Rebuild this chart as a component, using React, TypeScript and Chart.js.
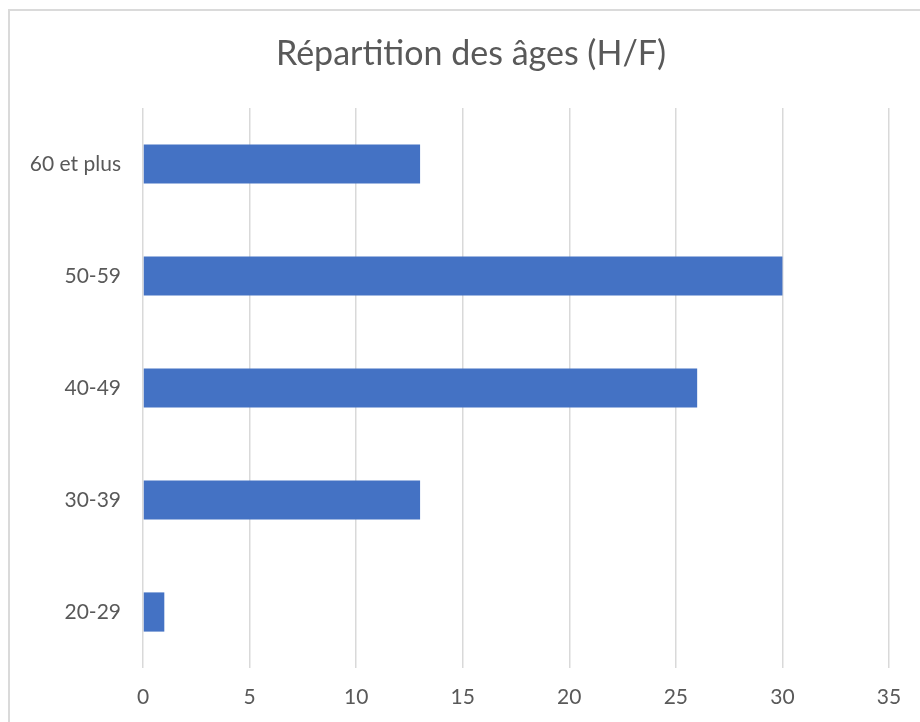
import React, { useEffect, useRef } from "react";
import { Chart, registerables } from "chart.js";

Chart.register(...registerables);

const categories = ["20-29", "30-39", "40-49", "50-59", "60 et plus"];
const values = [1, 13, 26, 30, 13];
const xTicks = [0, 5, 10, 15, 20, 25, 30, 35];
const titleText = "Répartition des âges (H/F)";

const FONT = "Lato, 'Open Sans', sans-serif";
const TEXT = "#595959";
const GRID = "#d9d9d9";
const BAR = "#4472C4";

const framePlugin = {
  id: "frame",
  beforeDraw(chart: any) {
    const ctx = chart.ctx;
    ctx.save();
    ctx.fillStyle = "#ffffff";
    ctx.fillRect(0, 0, chart.width, chart.height);
    ctx.strokeStyle = "#dadada";
    ctx.lineWidth = 2;
    ctx.strokeRect(9, 10, 2000, 2000);
    ctx.restore();
  },
  afterDraw(chart: any) {
    const ctx = chart.ctx;
    ctx.save();
    ctx.fillStyle = TEXT;
    ctx.font = `normal 34px ${FONT}`;
    ctx.textAlign = "center";
    ctx.textBaseline = "middle";
    ctx.fillText(titleText, 471, 54.4);
    ctx.restore();
  },
};

export default function App() {
  const ref = useRef<HTMLCanvasElement | null>(null);

  useEffect(() => {
    if (!ref.current) return;
    const chart = new Chart(ref.current, {
      type: "bar",
      data: {
        labels: categories,
        datasets: [
          {
            label: "Effectif",
            data: values,
            backgroundColor: BAR,
            borderWidth: 0,
            barPercentage: 0.35,
            categoryPercentage: 1,
          },
        ],
      },
      plugins: [framePlugin],
      options: {
        indexAxis: "y",
        responsive: false,
        animation: false,
        layout: { padding: { left: 0, right: 31, top: 108, bottom: 0 } },
        plugins: {
          legend: { display: false },
          tooltip: { enabled: false },
          title: { display: false },
        },
        scales: {
          x: {
            type: "linear",
            min: xTicks[0],
            max: xTicks[xTicks.length - 1],
            afterBuildTicks: (scale: any) => {
              scale.ticks = xTicks.map((v) => ({ value: v }));
            },
            afterFit: (scale: any) => {
              scale.height = 54;
            },
            grid: { color: GRID, lineWidth: 1.5, drawTicks: false },
            border: { display: false },
            ticks: {
              color: TEXT,
              font: { family: FONT, size: 21 },
              padding: 17,
              maxRotation: 0,
            },
          },
          y: {
            type: "category",
            reverse: true,
            afterFit: (scale: any) => {
              scale.width = 143;
            },
            grid: { display: false, drawTicks: false },
            border: { display: false },
            ticks: {
              color: TEXT,
              font: { family: FONT, size: 21 },
              padding: 22,
            },
          },
        },
      },
    });
    return () => chart.destroy();
  }, []);

  return (
    <div style={{ position: "absolute", left: 0, top: 0, width: 920, height: 722 }}>
      <canvas ref={ref} width={920} height={722} style={{ width: 920, height: 722, display: "block" }} />
    </div>
  );
}
